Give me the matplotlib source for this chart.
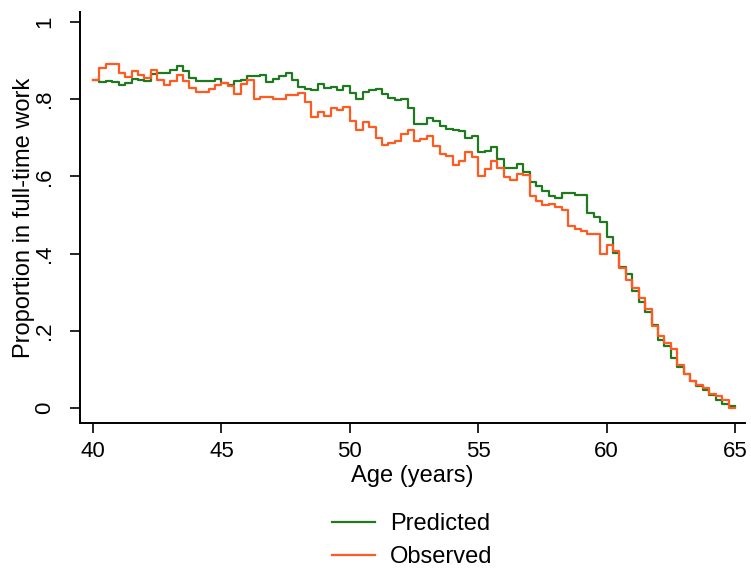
import numpy as np
import matplotlib
matplotlib.use('Agg')
import matplotlib.pyplot as plt

plt.rcParams['font.family'] = ['Liberation Sans', 'DejaVu Sans']

# quarterly ages 40.0 .. 65.0, one value per quarter (held until the next one)
age = np.arange(40, 65.001, 0.25)

predicted = [0.850, 0.844, 0.846, 0.844, 0.838, 0.841, 0.853, 0.850, 0.846, 0.865,
             0.869, 0.869, 0.877, 0.886, 0.872, 0.855, 0.846, 0.846, 0.846, 0.853,
             0.843, 0.838, 0.846, 0.851, 0.860, 0.860, 0.864, 0.845, 0.853, 0.860,
             0.867, 0.850, 0.831, 0.827, 0.824, 0.840, 0.828, 0.831, 0.825, 0.835,
             0.816, 0.801, 0.818, 0.823, 0.826, 0.813, 0.802, 0.797, 0.801, 0.776,
             0.735, 0.735, 0.752, 0.744, 0.731, 0.724, 0.721, 0.718, 0.699, 0.704,
             0.662, 0.667, 0.676, 0.645, 0.623, 0.623, 0.633, 0.612, 0.585, 0.576,
             0.562, 0.550, 0.545, 0.557, 0.558, 0.551, 0.551, 0.504, 0.494, 0.482,
             0.442, 0.402, 0.364, 0.347, 0.302, 0.275, 0.249, 0.214, 0.177, 0.161,
             0.129, 0.107, 0.087, 0.070, 0.058, 0.047, 0.034, 0.020, 0.010, 0.006]

observed = [0.850, 0.881, 0.890, 0.890, 0.868, 0.858, 0.873, 0.864, 0.856, 0.877,
            0.851, 0.836, 0.846, 0.863, 0.846, 0.830, 0.818, 0.819, 0.827, 0.836,
            0.843, 0.833, 0.813, 0.839, 0.850, 0.800, 0.807, 0.807, 0.800, 0.800,
            0.811, 0.811, 0.816, 0.793, 0.753, 0.766, 0.757, 0.776, 0.773, 0.780,
            0.744, 0.719, 0.740, 0.728, 0.700, 0.681, 0.686, 0.693, 0.711, 0.721,
            0.693, 0.698, 0.704, 0.678, 0.657, 0.652, 0.630, 0.640, 0.662, 0.650,
            0.600, 0.618, 0.639, 0.622, 0.599, 0.591, 0.606, 0.604, 0.548, 0.535,
            0.526, 0.529, 0.521, 0.513, 0.471, 0.464, 0.458, 0.452, 0.452, 0.399,
            0.421, 0.407, 0.363, 0.332, 0.310, 0.284, 0.257, 0.212, 0.187, 0.168,
            0.152, 0.111, 0.088, 0.069, 0.060, 0.051, 0.036, 0.032, 0.021, 0.000]

xticks = [40, 45, 50, 55, 60, 65]
yticks = [0, 0.2, 0.4, 0.6, 0.8, 1]
ytick_labels = ['0', '.2', '.4', '.6', '.8', '1']

fig = plt.figure(figsize=(7.51, 5.69), dpi=100)
ax = fig.add_axes([0.1065, 0.2566, 0.8855, 0.7223])

ax.plot(age, predicted + predicted[-1:], drawstyle='steps-post',
        color='#1f7a1f', lw=1.6, label='Predicted')
ax.plot(age, observed + observed[-1:], drawstyle='steps-post',
        color='#ff5a1f', lw=1.6, label='Observed')

ax.set_xlim(39.49, 65.39)
ax.set_ylim(-0.039, 1.026)
ax.set_xticks(xticks)
ax.set_yticks(yticks)
ax.set_yticklabels(ytick_labels, rotation=90, va='center')
ax.tick_params(axis='both', direction='out', length=7, width=1.2,
               labelsize=16, colors='black')
ax.tick_params(axis='x', pad=6)
ax.tick_params(axis='y', pad=11)

for s in ['top', 'right']:
    ax.spines[s].set_visible(False)
for s in ['left', 'bottom']:
    ax.spines[s].set_linewidth(1.4)

ax.set_xlabel('Age (years)', fontsize=17)
ax.xaxis.set_label_coords(0.5, -0.102)
ax.set_ylabel('Proportion in full-time work', fontsize=17)
ax.yaxis.set_label_coords(-0.067, 0.5)

ax.legend(loc='upper center', bbox_to_anchor=(0.5, -0.168), frameon=False,
          fontsize=17, handlelength=1.82, handletextpad=0.64, labelspacing=0.47)

fig.savefig('out.png', dpi=100, facecolor='white')
